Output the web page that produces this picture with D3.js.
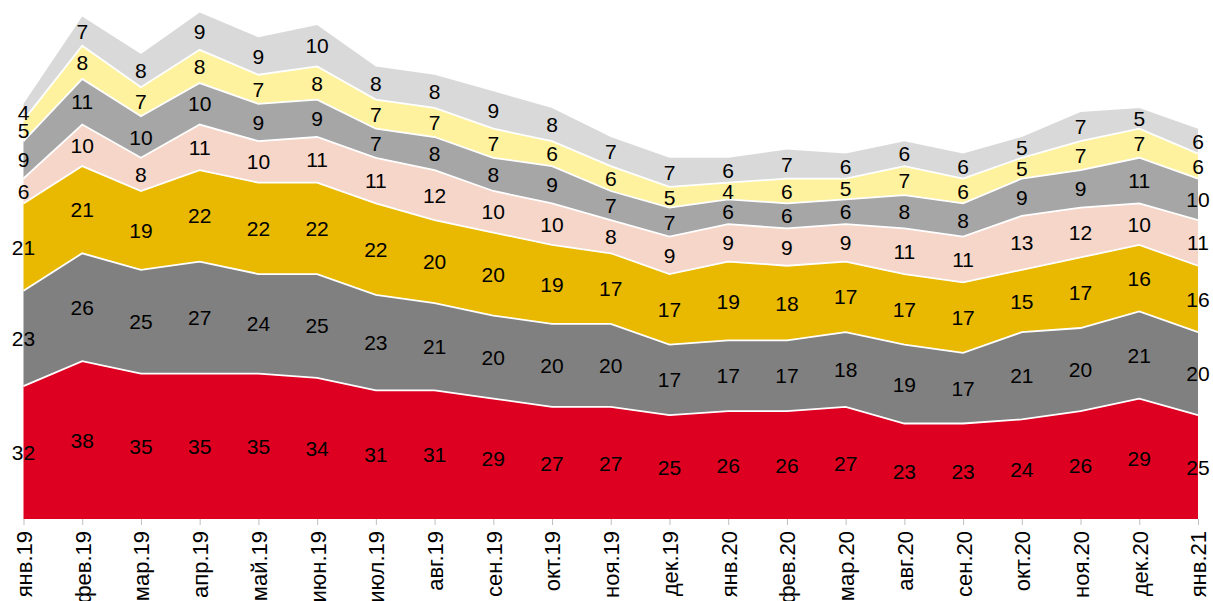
<!DOCTYPE html>
<html><head><meta charset="utf-8">
<script src="https://cdn.jsdelivr.net/npm/d3@7"></script>
<style>body{margin:0;background:#fff}svg{display:block}text{font-family:Arial,"Liberation Sans",sans-serif}</style>
</head><body>
<svg id="c" width="1213" height="601"></svg>
<script>
const months = ["янв.19","фев.19","мар.19","апр.19","май.19","июн.19","июл.19","авг.19","сен.19","окт.19","ноя.19","дек.19","янв.20","фев.20","мар.20","авг.20","сен.20","окт.20","ноя.20","дек.20","янв.21"];
const s1 = [32,38,35,35,35,34,31,31,29,27,27,25,26,26,27,23,23,24,26,29,25];
const s2 = [23,26,25,27,24,25,23,21,20,20,20,17,17,17,18,19,17,21,20,21,20];
const s3 = [21,21,19,22,22,22,22,20,20,19,17,17,19,18,17,17,17,15,17,16,16];
const s4 = [6,10,8,11,10,11,11,12,10,10,8,9,9,9,9,11,11,13,12,10,11];
const s5 = [9,11,10,10,9,9,7,8,8,9,7,7,6,6,6,8,8,9,9,11,10];
const s6 = [5,8,7,8,7,8,7,7,7,6,6,5,4,6,5,7,6,5,7,7,6];
const s7 = [4,7,8,9,9,10,8,8,9,8,7,7,6,7,6,6,6,5,7,5,6];
const seriesList = [s1,s2,s3,s4,s5,s6,s7];
const colors = ["#DE0020","#808080","#E9B800","#F5D6C9","#A6A6A6","#FEF29F","#D9D9D9"];

const keys = seriesList.map((_,i)=>"s"+i);
const table = months.map((m,j)=>{const o={m};seriesList.forEach((s,i)=>o["s"+i]=s[j]);return o;});
const stack = d3.stack().keys(keys)(table);

const svg = d3.select("#c");
const x = d3.scalePoint().domain(months).range([23.5,1198]);
const y = d3.scaleLinear().domain([0,125]).range([519,0]);

const area = d3.area().x(d=>x(d.data.m)).y0(d=>y(d[0])).y1(d=>y(d[1]));
svg.append("g").selectAll("path").data(stack).join("path")
  .attr("d",area).attr("fill",(d,i)=>colors[i]);
const line = d3.line().x(d=>x(d.data.m)).y(d=>y(d[1]));
svg.append("g").selectAll("path").data(stack.slice(0,6)).join("path")
  .attr("d",line).attr("fill","none").attr("stroke","#fff").attr("stroke-width",1.8);

const lg = svg.append("g");
stack.forEach((layer,i)=>{
  layer.forEach(d=>{
    lg.append("text").attr("x",x(d.data.m)).attr("y",y((d[0]+d[1])/2))
      .attr("text-anchor","middle").attr("dy","0.36em").style("font-size","21px").attr("fill","#000")
      .text(seriesList[i][months.indexOf(d.data.m)]);
  });
});

const ax = svg.append("g").attr("transform","translate(0,519)")
  .call(d3.axisBottom(x).tickSize(6).tickPadding(0).tickSizeOuter(0));
ax.select(".domain").remove();
ax.selectAll(".tick line").attr("stroke","#BFBFBF");
ax.selectAll(".tick text").style("font-size","22px").attr("fill","#000")
  .attr("transform","rotate(-90)").attr("text-anchor","end")
  .attr("x",-12).attr("y",0).attr("dy","0.36em")
  .attr("font-family","Arial, 'Liberation Sans', sans-serif");
</script>
</body></html>
